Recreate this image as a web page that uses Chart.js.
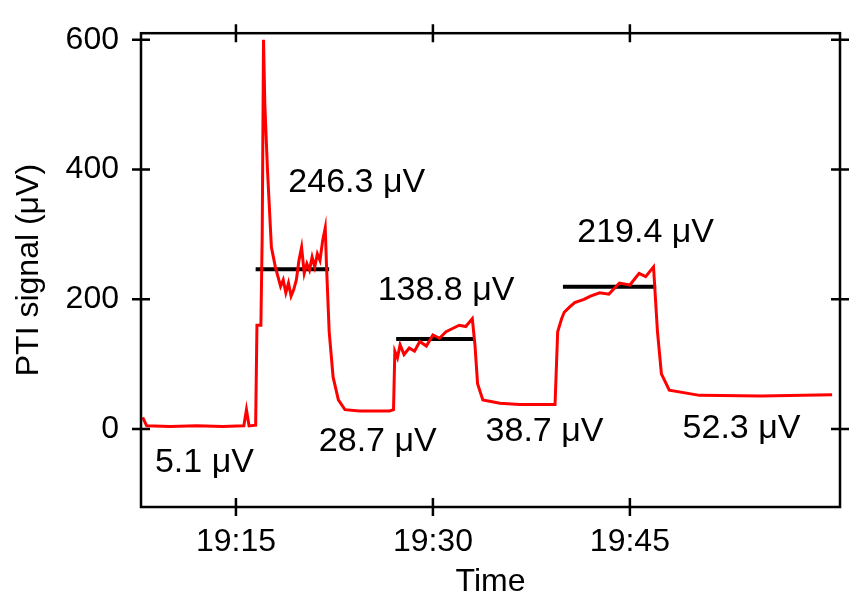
<!DOCTYPE html>
<html><head><meta charset="utf-8">
<script src="https://cdn.jsdelivr.net/npm/chart.js@4"></script>
<style>body{margin:0;background:#fff}#w{width:868px;height:615px}</style>
</head><body><div id="w"><canvas id="c"></canvas></div>
<script>
// minutes after 19:00
const timeMin = [7.9,8.2,10,12,14,15.6,15.8,16.0,16.5,16.6,16.9,17.0,17.1,17.2,17.4,17.7,18.0,18.2,18.4,18.6,18.8,19.0,19.2,19.4,19.6,19.8,20.0,20.2,20.4,20.6,20.8,21.0,21.2,21.4,21.6,21.8,21.9,22.1,22.4,22.8,23.3,24.4,26.7,27.0,27.1,27.3,27.5,27.8,28.2,28.6,29.0,29.5,30.0,30.5,31.0,31.5,32.0,32.5,33.0,33.2,33.4,33.8,35.1,36.6,39.3,39.5,39.8,40.0,40.4,40.8,41.5,42.0,42.7,43.4,44.2,45.0,45.7,46.2,46.8,47.1,47.4,48.0,50.3,55,60.4];
const signal  = [18,5,4,5,4,5,30,5,6,160,160,300,600,500,400,280,250,235,220,230,210,225,205,215,230,260,280,240,255,245,265,250,270,260,290,310,250,150,80,45,30,28,28,30,120,110,130,115,125,120,135,128,145,140,150,155,160,158,170,130,70,45,40,38,38,150,170,180,188,195,200,205,210,208,225,222,240,235,250,150,85,60,52,51,53];
const meanStart = [16.5,27.2,39.9];
const meanEnd   = [22.1,33.2,47.0];
const meanValue = [246.3,138.8,219.4];
const labelText = ["246.3 μV","138.8 μV","219.4 μV","5.1 μV","28.7 μV","38.7 μV","52.3 μV"];
const labelX    = [24.2,31.0,46.2,12.6,25.8,38.5,53.5];
const labelY    = [380,213,302,-52,-20,-4,0];
const xTicks = [15,30,45];
const yTicks = [0,200,400,600];

const F='"Liberation Sans", Arial';
const meanSets = meanValue.map((v,i)=>({data:[{x:meanStart[i],y:v},{x:meanEnd[i],y:v}],borderColor:'#000',borderWidth:4,pointRadius:0}));
const fr = {
  id:'fr',
  afterDraw(ch){
    const c=ch.ctx,a=ch.chartArea,xs=ch.scales.x,ys=ch.scales.y;
    c.save();c.strokeStyle='#000';c.lineWidth=2.5;
    c.strokeRect(a.left,a.top,a.right-a.left,a.bottom-a.top);
    const L=9;
    xTicks.forEach(t=>{const p=xs.getPixelForValue(t);
      c.beginPath();c.moveTo(p,a.bottom-L);c.lineTo(p,a.bottom+L);c.moveTo(p,a.top-L);c.lineTo(p,a.top+L);c.stroke();});
    yTicks.forEach(t=>{const p=ys.getPixelForValue(t);
      c.beginPath();c.moveTo(a.left-L,p);c.lineTo(a.left+L,p);c.moveTo(a.right-L,p);c.lineTo(a.right+L,p);c.stroke();});
    c.fillStyle='#000';c.font='34px '+F;c.textAlign='center';c.textBaseline='middle';
    labelText.forEach((t,i)=>c.fillText(t,xs.getPixelForValue(labelX[i]),ys.getPixelForValue(labelY[i])));
    c.restore();
  }
};
new Chart(document.getElementById('c'),{
  type:'line',
  data:{datasets:[{data:timeMin.map((t,i)=>({x:t,y:signal[i]})),borderColor:'#ff0000',borderWidth:3,pointRadius:0,tension:0},...meanSets]},
  options:{responsive:true,maintainAspectRatio:false,animation:false,
    layout:{padding:{top:17,right:28,left:0,bottom:0}},
    plugins:{legend:{display:false},tooltip:{enabled:false}},
    scales:{
      x:{type:'linear',min:7.77,max:61.0,
        afterBuildTicks:s=>{s.ticks=xTicks.map(v=>({value:v}));},
        afterFit:s=>{s.height=108;},
        grid:{display:false},border:{display:false},
        ticks:{color:'#000',font:{size:32,family:F},padding:8,maxRotation:0,
          callback:v=>'19:'+String(v).padStart(2,'0')},
        title:{display:true,text:'Time',color:'#000',font:{size:32,family:F},padding:{top:0,bottom:14}}},
      y:{min:-120,max:610,
        afterBuildTicks:s=>{s.ticks=yTicks.map(v=>({value:v}));},
        afterFit:s=>{s.width=141;},
        grid:{display:false},border:{display:false},
        ticks:{color:'#000',font:{size:32,family:F},padding:14},
        title:{display:true,text:'PTI signal (μV)',color:'#000',font:{size:32,family:F},padding:{top:10,bottom:0}}}
    }},
  plugins:[fr]
});
</script></body></html>
